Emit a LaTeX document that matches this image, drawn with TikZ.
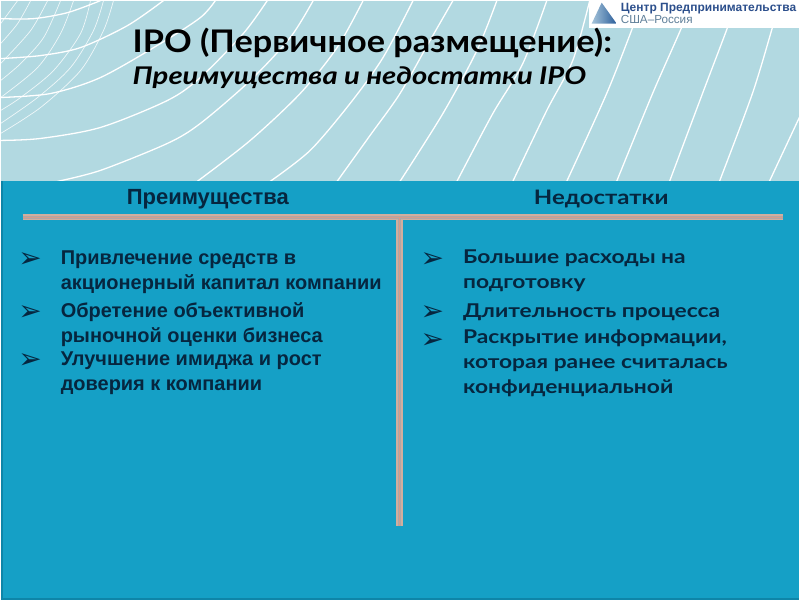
\documentclass[tikz,border=0pt]{standalone}
\usepackage{fontspec}
\setmainfont{Liberation Sans}
\newfontfamily\gothfont[FakeStretch=1.1]{Lato}
\newfontfamily\gothwide[FakeStretch=1.2]{Lato}
\newfontfamily\bulletfont{DejaVu Sans}
\usetikzlibrary{positioning,shadings}
\definecolor{skybg}{HTML}{B2D9E1}
\definecolor{panelblue}{HTML}{15A0C6}
\definecolor{paneledge}{HTML}{0E85A8}
\definecolor{inkblue}{HTML}{06263F}
\definecolor{rulesalmon}{HTML}{D89C88}
\definecolor{rulegrey}{HTML}{B0A6A6}
\definecolor{ruletan}{HTML}{D2AE9E}
\definecolor{logoblue}{HTML}{2C4F8C}
\definecolor{logogrey}{HTML}{5F7F99}
\definecolor{logolight}{HTML}{A5C4DA}
\definecolor{logodark}{HTML}{2B5E9A}
\tikzstyle{wave} = [white,line width=1.3pt]
\tikzstyle{thinwave} = [white,line width=0.7pt,opacity=0.8]
\tikzstyle{bullet} = [inkblue,inner sep=0pt,anchor=base west,font=\bulletfont\fontsize{28}{28}\selectfont]
\tikzstyle{lefttext} = [inkblue,inner sep=0pt,anchor=base west,align=left,font=\bfseries\fontsize{20}{24.6}\selectfont]
\tikzstyle{righttext} = [inkblue,inner sep=0pt,anchor=base west,align=left,font=\gothwide\bfseries\fontsize{19}{24.6}\selectfont]

\begin{document}
\begin{tikzpicture}[x=1pt,y=-1pt]
    \fill[skybg] (0,0) rectangle (800,600);
    % curves behind the title
    \draw[thinwave] plot[smooth] coordinates {(113,0) (103,30) (80,70) (40,107) (0,133)};
    \draw[thinwave] plot[smooth] coordinates {(103,0) (93,30) (70,67) (37,97) (0,123)};
    \draw[thinwave] plot[smooth] coordinates {(90,0) (80,33) (53,70) (20,97) (0,110)};
    \draw[thinwave] plot[smooth] coordinates {(73,0) (60,33) (37,67) (0,97)};
    \draw[thinwave] plot[smooth] coordinates {(60,0) (43,37) (20,63) (0,80)};
    \draw[thinwave] plot[smooth] coordinates {(47,0) (30,30) (0,63)};
    \draw[thinwave] plot[smooth] coordinates {(30,0) (17,23) (0,43)};
    \draw[thinwave] plot[smooth] coordinates {(17,0) (0,23)};
    \draw[wave] plot[smooth] coordinates {(100,0) (67,12) (33,18) (0,18)};
    \draw[wave] plot[smooth] coordinates {(163,0) (127,25) (80,47) (40,55) (0,58)};
    \draw[wave] plot[smooth] coordinates {(215,0) (200,17) (160,43) (100,77) (50,93) (0,97)};
    \draw[wave] plot[smooth] coordinates {(267,0) (243,33) (200,77) (167,100) (100,127) (40,138) (0,140)};
    \draw[wave] plot[smooth] coordinates {(313,0) (290,37) (250,80) (200,123) (167,143) (100,170) (57,181)};
    \draw[wave] plot[smooth] coordinates {(363,0) (337,47) (300,93) (250,140) (197,181)};
    \draw[wave] plot[smooth] coordinates {(413,0) (383,57) (350,103) (310,150) (270,181)};
    \draw[wave] plot[smooth] coordinates {(453,0) (430,40) (400,93) (370,135) (337,181)};
    \draw[wave] plot[smooth] coordinates {(497,0) (477,50) (443,113) (400,181)};
    \draw[wave] plot[smooth] coordinates {(547,0) (523,63) (493,113) (457,181)};
    \draw[wave] plot[smooth] coordinates {(590,0) (573,60) (547,110) (513,181)};
    \draw[wave] plot[smooth] coordinates {(643,0) (633,27) (607,93) (567,181)};
    \draw[wave] plot[smooth] coordinates {(692,0) (682,27) (653,93) (617,181)};
    \draw[wave] plot[smooth] coordinates {(737,0) (728,27) (703,93) (670,181)};
    \draw[wave] plot[smooth] coordinates {(781,0) (773,27) (753,93) (720,181)};
    \draw[wave] plot[smooth] coordinates {(800,117) (770,181)};
    % logo
    \fill[white] (589,0) rectangle (800,27);
    \shade[left color=logolight,right color=logodark] (592,23) -- (602,2) -- (617,23) -- cycle;
    \node[logoblue,inner sep=0pt,anchor=base west,font=\bfseries\fontsize{12}{12}\selectfont] (logotop) at (621,11) {Центр Предпринимательства};
    \node[logogrey,inner sep=0pt,anchor=base west,font=\fontsize{11.7}{12}\selectfont] (logobottom) at (621,23) {США–Россия};
    % title
    \node[black,inner sep=0pt,anchor=base west,font=\gothfont\bfseries\fontsize{31.2}{31.2}\selectfont] (title) at (132,52) {IPO (Первичное размещение):};
    \node[black,inner sep=0pt,anchor=base west,font=\gothwide\bfseries\itshape\fontsize{24.4}{24.4}\selectfont] (subtitle) at (132,84) {Преимущества и недостатки IPO};
    % panel
    \fill[panelblue] (0,181) rectangle (800,600);
    \fill[paneledge] (0,181) rectangle (2.5,600);
    \fill[paneledge] (0,598.5) rectangle (800,600);
    % rules
    \draw[ruletan,line width=6pt] (22,217) -- (784,217);
    \draw[ruletan,line width=7pt] (399.5,217) -- (399.5,526);
    \draw[rulegrey,line width=2.6pt] (22,217) -- (784,217);
    \draw[rulegrey,line width=3pt] (399.5,217) -- (399.5,526);
    \draw[rulesalmon,line width=1pt] (22,217) -- (784,217);
    \draw[rulesalmon,line width=1pt] (399.5,217) -- (399.5,526);
    % column heads
    \node[inkblue,inner sep=0pt,anchor=base,font=\bfseries\fontsize{22}{22}\selectfont] (headleft) at (207.5,204) {Преимущества};
    \node[inkblue,inner sep=0pt,anchor=base,font=\gothwide\bfseries\fontsize{20}{20}\selectfont] (headright) at (601.5,204) {Недостатки};
    % left column
    \foreach \name/\y/\txt in {proa/289/{Привлечение средств в\\акционерный капитал компании},
                               prob/342/{Обретение объективной\\рыночной оценки бизнеса},
                               proc/390/{Улучшение имиджа и рост\\доверия к компании}}{
        \node[lefttext] (\name) at (60,\y) {\txt};
    }
    % right column
    \foreach \name/\y/\txt in {cona/288/{Большие расходы на\\подготовку},
                               conb/317/{Длительность процесса},
                               conc/393/{Раскрытие информации,\\которая ранее считалась\\конфиденциальной}}{
        \node[righttext] (\name) at (463,\y) {\txt};
    }
    % bullets
    \foreach \name/\x/\y in {bulla/17.5/267,bullb/17.5/320,bullc/17.5/368,bulld/420.5/267,bulle/420.5/320,bullf/420.5/348}{
        \node[bullet] (\name) at (\x,\y) {➢};
    }
\end{tikzpicture}
\end{document}
